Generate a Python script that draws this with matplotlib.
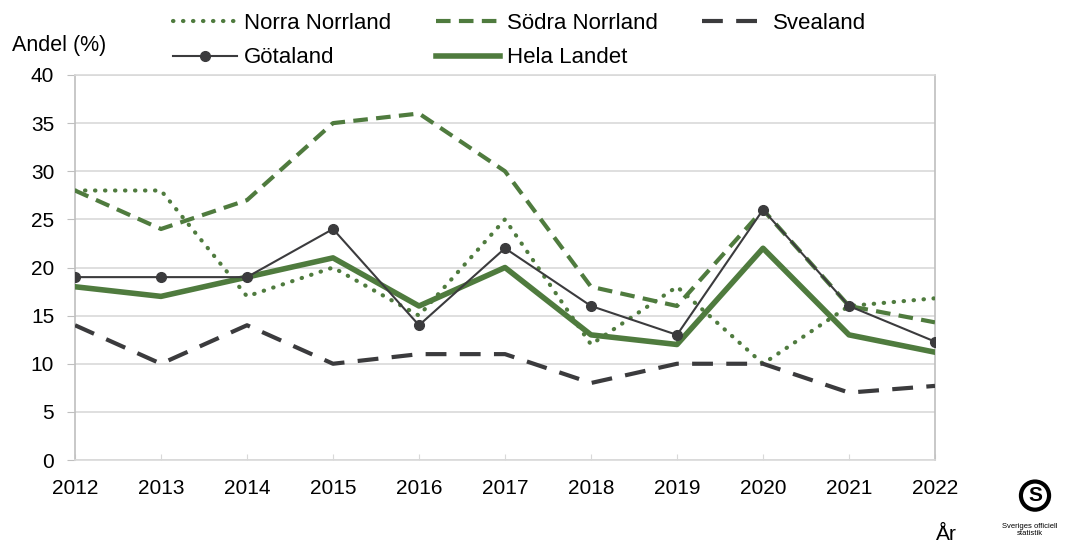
import matplotlib
matplotlib.use("Agg")
import matplotlib.pyplot as plt
from matplotlib.patches import Circle

plt.rcParams['font.family'] = ['Liberation Sans', 'DejaVu Sans']

years = [2012, 2013, 2014, 2015, 2016, 2017, 2018, 2019, 2020, 2021, 2022]
norra_norrland = [28, 28, 17, 20, 15, 25, 12, 18, 10, 16, 16.8]
sodra_norrland = [28, 24, 27, 35, 36, 30, 18, 16, 26, 16, 14.3]
svealand = [14, 10, 14, 10, 11, 11, 8, 10, 10, 7, 7.7]
gotaland = [19, 19, 19, 24, 14, 22, 16, 13, 26, 16, 12.3]
hela_landet = [18, 17, 19, 21, 16, 20, 13, 12, 22, 13, 11.2]
y_ticks = [0, 5, 10, 15, 20, 25, 30, 35, 40]

green = '#4f7b3e'
dark = '#3b3b3d'

fig = plt.figure(figsize=(10.68, 5.42), dpi=100)
ax = fig.add_axes([75/1068, 1-460/542, 860/1068, 385/542])

l1, = ax.plot(years, norra_norrland, color=green, lw=3, linestyle=(0, (0.1, 2.3)),
              dash_capstyle='round', label='Norra Norrland', zorder=3)
l2, = ax.plot(years, sodra_norrland, color=green, lw=3, linestyle=(0, (3.5, 2)),
              label='Södra Norrland', zorder=3)
l3, = ax.plot(years, svealand, color=dark, lw=3, linestyle=(0, (5, 3.2)),
              label='Svealand', zorder=3)
l4, = ax.plot(years, gotaland, color=dark, lw=1.5, marker='o', markersize=7,
              label='Götaland', zorder=4)
l5, = ax.plot(years, hela_landet, color=green, lw=4, label='Hela Landet', zorder=3)

ax.set_xlim(2012, 2022)
ax.set_ylim(0, 40)
ax.set_yticks(y_ticks)
ax.set_xticks(years)
ax.grid(axis='y', color='#d9d9d9', lw=1.2, zorder=0)
for s in ['left', 'right']:
    ax.spines[s].set_color('#bfbfbf')
    ax.spines[s].set_linewidth(1.2)
for s in ['top', 'bottom']:
    ax.spines[s].set_color('#d9d9d9')
    ax.spines[s].set_linewidth(1.2)
ax.tick_params(axis='y', direction='out', length=6, color='#bfbfbf', labelsize=15, pad=9)
ax.tick_params(axis='x', direction='in', length=4, color='#d9d9d9', labelsize=15, pad=14)

fig.text(12/1068, 1-45/542, 'Andel (%)', fontsize=15.5, va='center', ha='left')
fig.text(946/1068, 1-534/542, 'År', fontsize=15, va='center', ha='center')

fig.legend(handles=[l1, l4, l2, l5, l3], loc='upper left', ncol=3,
           bbox_to_anchor=(153/1068, 1.013), frameon=False, fontsize=16,
           handlelength=2.9, columnspacing=2.0, handletextpad=0.3,
           labelspacing=0.6)

# logo approximation
logo_ax = fig.add_axes([1010/1068, 1-522/542, 50/1068, 44/542])
logo_ax.set_xlim(0, 1)
logo_ax.set_ylim(0, 1)
logo_ax.axis('off')
logo_ax.set_aspect('equal')
logo_ax.add_patch(Circle((0.5, 0.6), 0.32, fill=False, lw=3, color='black'))
logo_ax.text(0.5, 0.6, 'S', fontsize=15, fontweight='bold', ha='center', va='center')
fig.text(1030/1068, 1-523/542, 'Sveriges officiell\nstatistik', fontsize=5.5,
         ha='center', va='top', linespacing=1.0)

fig.savefig('out.png', dpi=100)
